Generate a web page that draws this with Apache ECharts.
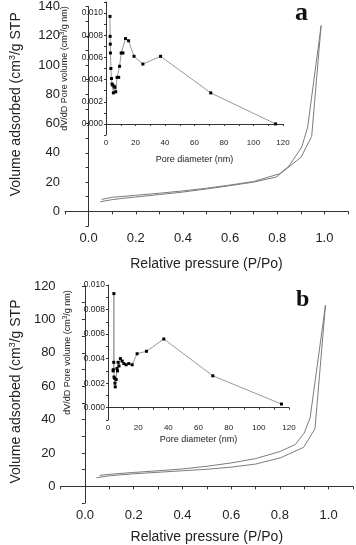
<!DOCTYPE html>
<html>
<head>
<meta charset="utf-8">
<script src="https://cdn.jsdelivr.net/npm/echarts@6/dist/echarts.min.js"></script>
<style>
html, body { margin: 0; padding: 0; background: #fff; }
#chart { width: 356px; height: 545px; }
</style>
</head>
<body>
<div id="chart"></div>
<script>
// 样品 a - 吸附/脱附等温线
var adsP_a = [0.05, 0.1, 0.15, 0.2, 0.3, 0.4, 0.5, 0.6, 0.7, 0.795, 0.901, 0.946, 0.986];
var adsV_a = [6.6, 8.0, 9.0, 9.8, 11.5, 13.2, 15.3, 17.6, 20.0, 23.4, 37, 51.2, 127];
var desP_a = [0.986, 0.929, 0.904, 0.85, 0.81, 0.7, 0.6, 0.5, 0.4, 0.3, 0.2, 0.1, 0.055];
var desV_a = [127, 57.6, 44, 31, 25.7, 20.4, 18.0, 15.8, 14.0, 12.4, 11.0, 9.6, 8.2];
// 样品 a - 孔径分布 (inset)
var poreD_a = [2.7, 2.8, 2.9, 3.0, 3.3, 3.7, 4.1, 4.5, 5.0, 5.5, 6.0, 6.6, 7.5, 8.6, 9.2, 10.3, 11.5, 13.2, 15.3, 19, 25, 37, 71, 115];
var poreV_a = [0.0097, 0.0079, 0.0072, 0.0064, 0.0050, 0.0041, 0.0036, 0.0035, 0.0028, 0.0034, 0.0033, 0.0029, 0.0042, 0.0042, 0.0052, 0.0064, 0.0064, 0.0077, 0.0075, 0.0061, 0.0054, 0.0061, 0.0028, 0.0000];

// 样品 b - 吸附/脱附等温线
var adsP_b = [0.047, 0.1, 0.2, 0.3, 0.4, 0.5, 0.6, 0.7, 0.803, 0.897, 0.944, 0.987];
var adsV_b = [5.1, 6.3, 7.5, 8.4, 9.3, 10.2, 11.5, 13.3, 17.1, 23.3, 34.5, 108.5];
var desP_b = [0.987, 0.924, 0.9, 0.863, 0.8, 0.7, 0.6, 0.5, 0.4, 0.3, 0.2, 0.1, 0.06];
var desV_b = [108.5, 41, 32, 25, 20.8, 16.6, 14.0, 12.0, 10.4, 9.3, 8.3, 7.2, 6.5];
// 样品 b - 孔径分布 (inset)
var poreD_b = [3.4, 3.5, 3.8, 3.9, 4.0, 4.4, 4.6, 4.8, 5.4, 5.9, 6.3, 6.7, 7.3, 8.2, 9.4, 10.5, 12.0, 13.8, 16.0, 19.3, 25.5, 37, 69.5, 115];
var poreV_b = [0.0030, 0.0031, 0.0037, 0.0093, 0.0025, 0.0024, 0.0020, 0.0017, 0.0023, 0.0032, 0.0030, 0.0037, 0.0034, 0.0040, 0.0038, 0.0036, 0.0035, 0.0036, 0.0035, 0.0044, 0.0046, 0.0056, 0.0026, 0.0003];

var FONT = 'Liberation Sans';
var TXT = '#222';
var AX = '#333';

function pairs(xs, ys) {
    return xs.map(function (x, i) { return [x, ys[i]]; });
}

/*主图 X 轴*/
function mainX(gi, gap) {
    return {
        type: 'value', gridIndex: gi, min: -0.1, max: 1.1, interval: 0.1,
        name: 'Relative pressure (P/Po)', nameLocation: 'middle', nameGap: gap,
        nameTextStyle: { fontSize: 14, color: TXT, fontFamily: FONT },
        axisLine: { lineStyle: { color: AX, width: 1 } },
        axisTick: { length: 3, lineStyle: { color: AX } },
        axisLabel: {
            fontSize: 13, color: TXT, fontFamily: FONT, margin: 6,
            formatter: function (v) {
                var n = Math.round(v * 10);
                return (n % 2 === 0 && n >= 0 && n <= 10) ? (n / 10).toFixed(1) : '';
            }
        },
        splitLine: { show: false }
    };
}

/*主图 Y 轴, shift 用来上移轴名*/
function mainY(gi, max, gap, shift) {
    return {
        type: 'value', gridIndex: gi, min: -10, max: max, interval: 10,
        name: 'Volume adsorbed (cm{sup|3}/g STP', nameLocation: 'middle', nameGap: gap,
        nameTextStyle: {
            fontSize: 14, color: TXT, fontFamily: FONT, padding: [0, 0, 0, shift],
            rich: { sup: { fontSize: 9, color: TXT, fontFamily: FONT, padding: [0, 0, 7, 0] } }
        },
        axisLine: { show: true, lineStyle: { color: AX, width: 1 } },
        axisTick: { show: true, length: 3, lineStyle: { color: AX } },
        axisLabel: {
            fontSize: 13, color: TXT, fontFamily: FONT, margin: 5,
            formatter: function (v) {
                return (Math.round(v) % 20 === 0 && v >= 0) ? String(Math.round(v)) : '';
            }
        },
        splitLine: { show: false }
    };
}

/*插图 X 轴*/
function insetX(gi, gap) {
    return {
        type: 'value', gridIndex: gi, min: 0, max: 120, interval: 10,
        name: 'Pore diameter (nm)', nameLocation: 'middle', nameGap: gap,
        nameTextStyle: { fontSize: 9, color: TXT, fontFamily: FONT },
        axisLine: { lineStyle: { color: AX, width: 1 } },
        axisTick: { length: 2, lineStyle: { color: AX } },
        axisLabel: {
            fontSize: 8, color: TXT, fontFamily: FONT, margin: 4,
            formatter: function (v) { return (Math.round(v) % 20 === 0) ? String(Math.round(v)) : ''; }
        },
        splitLine: { show: false }
    };
}

/*插图 Y 轴*/
function insetY(gi, max, gap) {
    return {
        type: 'value', gridIndex: gi, min: -0.001, max: max, interval: 0.001,
        name: 'dV/dD Pore volume (cm{sup|3}/g nm)', nameLocation: 'middle', nameGap: gap,
        nameTextStyle: {
            fontSize: 9, color: TXT, fontFamily: FONT,
            rich: { sup: { fontSize: 6.5, color: TXT, fontFamily: FONT, padding: [0, 0, 4, 0] } }
        },
        axisLine: { show: true, lineStyle: { color: AX, width: 1 } },
        axisTick: { show: true, length: 2, lineStyle: { color: AX } },
        axisLabel: {
            fontSize: 8.5, color: TXT, fontFamily: FONT, margin: 3,
            formatter: function (v) {
                var n = Math.round(v * 1000);
                return (n % 2 === 0 && n >= 0) ? (n / 1000).toFixed(3) : '';
            }
        },
        splitLine: { show: false }
    };
}

function isoLine(xi, data) {
    return {
        type: 'line', xAxisIndex: xi, yAxisIndex: xi, data: data,
        showSymbol: false, symbol: 'none',
        lineStyle: { color: '#7c7c7c', width: 1 }
    };
}

function poreLine(xi, data) {
    return {
        type: 'line', xAxisIndex: xi, yAxisIndex: xi, data: data,
        symbol: 'rect', symbolSize: 3,
        itemStyle: { color: '#000' },
        lineStyle: { color: '#9a9a9a', width: 1 }
    };
}

var myChart = echarts.init(document.getElementById('chart'));
var option = {
    animation: false,
    backgroundColor: '#fff',
    grid: [
        { left: 54, top: 6, width: 294, height: 220 },
        { left: 106, top: 2, width: 177, height: 133 },
        { left: 54, top: 286, width: 300, height: 223 },
        { left: 108, top: 285, width: 181, height: 135 }
    ],
    xAxis: [mainX(0, 31), insetX(1, 20), mainX(2, 27), insetX(3, 15)],
    yAxis: [mainY(0, 140, 41, 24), insetY(1, 0.011, 36), mainY(2, 120, 36, 6), insetY(3, 0.010, 35)],
    series: [
        isoLine(0, pairs(adsP_a, adsV_a)),
        isoLine(0, pairs(desP_a, desV_a)),
        poreLine(1, pairs(poreD_a, poreV_a)),
        isoLine(2, pairs(adsP_b, adsV_b)),
        isoLine(2, pairs(desP_b, desV_b)),
        poreLine(3, pairs(poreD_b, poreV_b))
    ],
    graphic: [
        { type: 'text', left: 295, top: 0, style: { text: 'a', font: 'bold 26px "Liberation Serif"', fill: '#111' } },
        { type: 'text', left: 296, top: 288, style: { text: 'b', font: 'bold 24px "Liberation Serif"', fill: '#111' } }
    ]
};
myChart.setOption(option);
</script>
</body>
</html>
